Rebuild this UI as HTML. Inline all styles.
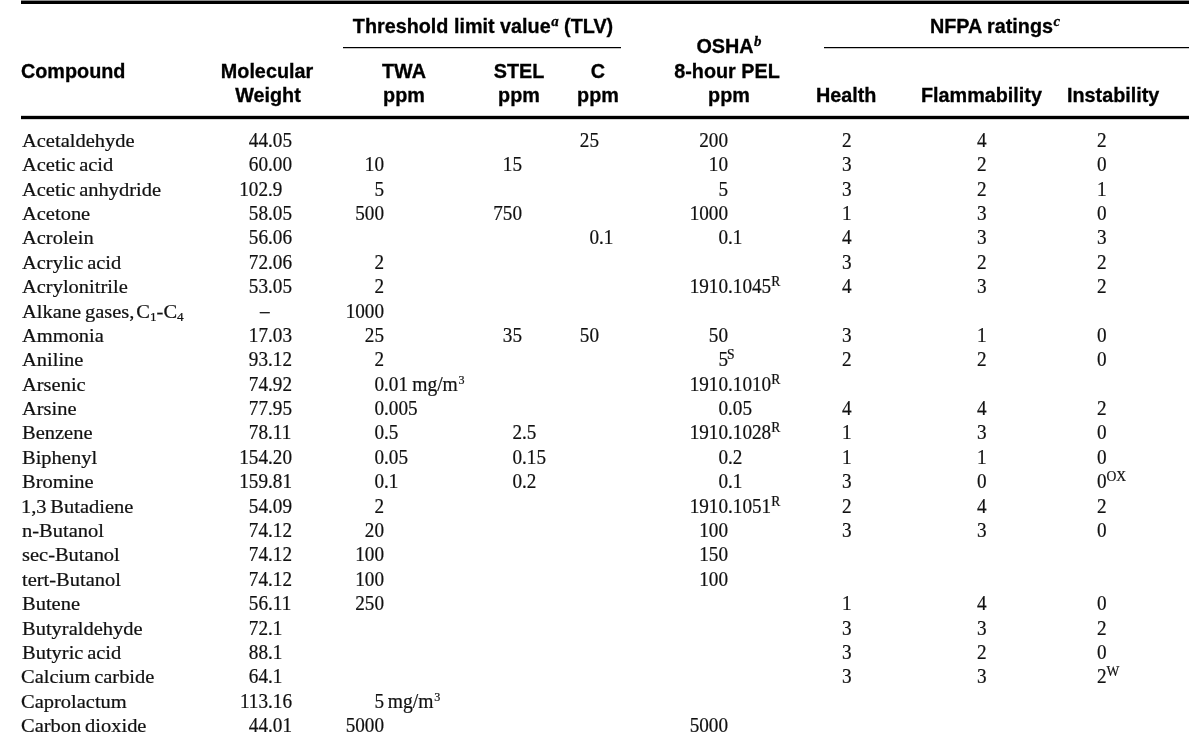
<!DOCTYPE html>
<html lang="en"><head><meta charset="utf-8"><title>Table</title>
<style>
html,body{margin:0;padding:0;background:#fff;}
body{width:1189px;height:741px;position:relative;overflow:hidden;color:#111;}
#t{left:0;top:0;width:1189px;height:741px;will-change:transform;}
div{position:absolute;white-space:pre;}
.n,.d{-webkit-text-stroke:0.22px #111;}
.n{font:19.80px/24px "Liberation Serif",serif;transform:scaleX(1.035);transform-origin:0 0;word-spacing:-1.3px;}
.d{font:20.40px/24px "Liberation Serif",serif;transform:scaleX(0.94);transform-origin:0 0;}
.i{position:absolute;right:100%;top:0;}
.u{display:inline-block;transform:scaleX(1.02);transform-origin:0 0;margin-left:-1px;}
.r{text-align:right;}
.h{font:bold 19.30px/24px "Liberation Sans",sans-serif;color:#000;-webkit-text-stroke:0.3px #000;transform:scaleX(1.026);transform-origin:0 0;}
.c{width:400px;text-align:center;transform-origin:50% 0;}
sup,sub{line-height:0;position:relative;vertical-align:baseline;}
.d sup{display:inline-block;font-size:13.6px;top:-7px;transform:scaleX(1.064);transform-origin:0 50%;margin-left:-0.3px;}
.u sup{font-size:12.6px;transform:none;margin-left:0.8px;}
.n sub{font-size:12.8px;top:3.4px;}
.cs{margin-left:-1.8px;}
.h sup{font:italic bold 14.5px/0 "Liberation Serif",serif;top:-7.2px;margin-left:0.5px;}
.rule{background:#000;}
</style></head><body><div id="t">
<div class="rule" style="left:21px;top:0;width:1168px;height:1px;background:#8e8e8e"></div>
<div class="rule" style="left:21px;top:1px;width:1168px;height:3px"></div>
<div class="rule" style="left:21px;top:115px;width:1168px;height:5px;background:#d4d4d4"></div>
<div class="rule" style="left:21px;top:116px;width:1168px;height:3px"></div>
<div class="rule" style="left:343px;top:47px;width:278px;height:2px;background:#c4c4c4"></div>
<div class="rule" style="left:343px;top:47px;width:278px;height:1px"></div>
<div class="rule" style="left:824px;top:47px;width:365px;height:2px;background:#c4c4c4"></div>
<div class="rule" style="left:824px;top:47px;width:365px;height:1px"></div>
<div class="h" style="left:21.20px;top:60.00px">Compound</div>
<div class="h c" style="left:67.00px;top:60.00px">Molecular</div>
<div class="h c" style="left:67.60px;top:84.00px">Weight</div>
<div class="h c" style="left:283.00px;top:15.00px">Threshold limit value<sup>a</sup> (TLV)</div>
<div class="h c" style="left:203.70px;top:60.00px">TWA</div>
<div class="h c" style="left:203.80px;top:84.00px">ppm</div>
<div class="h c" style="left:319.00px;top:60.00px">STEL</div>
<div class="h c" style="left:319.00px;top:84.00px">ppm</div>
<div class="h c" style="left:397.80px;top:60.00px">C</div>
<div class="h c" style="left:397.60px;top:84.00px">ppm</div>
<div class="h c" style="left:528.60px;top:35.00px">OSHA<sup>b</sup></div>
<div class="h c" style="left:527.00px;top:60.00px">8-hour PEL</div>
<div class="h c" style="left:528.50px;top:84.00px">ppm</div>
<div class="h c" style="left:795.00px;top:15.00px">NFPA ratings<sup>c</sup></div>
<div class="h" style="left:815.50px;top:84.00px">Health</div>
<div class="h" style="left:920.50px;top:84.00px">Flammability</div>
<div class="h" style="left:1066.50px;top:84.00px">Instability</div>
<div class="n" style="left:21.60px;top:128.00px">Acetaldehyde</div>
<div class="d" style="left:267.50px;top:128.00px"><span class="i">44</span>.05</div>
<div class="d" style="left:599.30px;top:128.00px"><span class="i">25</span></div>
<div class="d" style="left:728.10px;top:128.00px"><span class="i">200</span></div>
<div class="d" style="left:842.10px;top:128.00px">2</div>
<div class="d" style="left:977.10px;top:128.00px">4</div>
<div class="d" style="left:1097.20px;top:128.00px">2</div>
<div class="n" style="left:21.60px;top:152.00px">Acetic acid</div>
<div class="d" style="left:267.50px;top:152.00px"><span class="i">60</span>.00</div>
<div class="d" style="left:383.70px;top:152.00px"><span class="i">10</span></div>
<div class="d" style="left:522.00px;top:152.00px"><span class="i">15</span></div>
<div class="d" style="left:728.10px;top:152.00px"><span class="i">10</span></div>
<div class="d" style="left:842.10px;top:152.00px">3</div>
<div class="d" style="left:977.10px;top:152.00px">2</div>
<div class="d" style="left:1097.20px;top:152.00px">0</div>
<div class="n" style="left:21.60px;top:177.00px">Acetic anhydride</div>
<div class="d" style="left:267.50px;top:177.00px"><span class="i">102</span>.9</div>
<div class="d" style="left:383.70px;top:177.00px"><span class="i">5</span></div>
<div class="d" style="left:728.10px;top:177.00px"><span class="i">5</span></div>
<div class="d" style="left:842.10px;top:177.00px">3</div>
<div class="d" style="left:977.10px;top:177.00px">2</div>
<div class="d" style="left:1097.20px;top:177.00px">1</div>
<div class="n" style="left:21.60px;top:201.00px">Acetone</div>
<div class="d" style="left:267.50px;top:201.00px"><span class="i">58</span>.05</div>
<div class="d" style="left:383.70px;top:201.00px"><span class="i">500</span></div>
<div class="d" style="left:522.00px;top:201.00px"><span class="i">750</span></div>
<div class="d" style="left:728.10px;top:201.00px"><span class="i">1000</span></div>
<div class="d" style="left:842.10px;top:201.00px">1</div>
<div class="d" style="left:977.10px;top:201.00px">3</div>
<div class="d" style="left:1097.20px;top:201.00px">0</div>
<div class="n" style="left:21.60px;top:225.00px">Acrolein</div>
<div class="d" style="left:267.50px;top:225.00px"><span class="i">56</span>.06</div>
<div class="d" style="left:599.30px;top:225.00px"><span class="i">0</span>.1</div>
<div class="d" style="left:728.10px;top:225.00px"><span class="i">0</span>.1</div>
<div class="d" style="left:842.10px;top:225.00px">4</div>
<div class="d" style="left:977.10px;top:225.00px">3</div>
<div class="d" style="left:1097.20px;top:225.00px">3</div>
<div class="n" style="left:21.60px;top:250.00px">Acrylic acid</div>
<div class="d" style="left:267.50px;top:250.00px"><span class="i">72</span>.06</div>
<div class="d" style="left:383.70px;top:250.00px"><span class="i">2</span></div>
<div class="d" style="left:842.10px;top:250.00px">3</div>
<div class="d" style="left:977.10px;top:250.00px">2</div>
<div class="d" style="left:1097.20px;top:250.00px">2</div>
<div class="n" style="left:21.60px;top:274.00px">Acrylonitrile</div>
<div class="d" style="left:267.50px;top:274.00px"><span class="i">53</span>.05</div>
<div class="d" style="left:383.70px;top:274.00px"><span class="i">2</span></div>
<div class="d" style="left:728.10px;top:274.00px"><span class="i">1910</span>.1045<sup>R</sup></div>
<div class="d" style="left:842.10px;top:274.00px">4</div>
<div class="d" style="left:977.10px;top:274.00px">3</div>
<div class="d" style="left:1097.20px;top:274.00px">2</div>
<div class="n" style="left:21.60px;top:299.00px">Alkane gases,<span class="cs"> </span>C<sub>1</sub>-C<sub>4</sub></div>
<div class="d" style="left:259.50px;top:299.00px">–</div>
<div class="d" style="left:383.70px;top:299.00px"><span class="i">1000</span></div>
<div class="n" style="left:21.60px;top:323.00px">Ammonia</div>
<div class="d" style="left:267.50px;top:323.00px"><span class="i">17</span>.03</div>
<div class="d" style="left:383.70px;top:323.00px"><span class="i">25</span></div>
<div class="d" style="left:522.00px;top:323.00px"><span class="i">35</span></div>
<div class="d" style="left:599.30px;top:323.00px"><span class="i">50</span></div>
<div class="d" style="left:728.10px;top:323.00px"><span class="i">50</span></div>
<div class="d" style="left:842.10px;top:323.00px">3</div>
<div class="d" style="left:977.10px;top:323.00px">1</div>
<div class="d" style="left:1097.20px;top:323.00px">0</div>
<div class="n" style="left:21.60px;top:347.00px">Aniline</div>
<div class="d" style="left:267.50px;top:347.00px"><span class="i">93</span>.12</div>
<div class="d" style="left:383.70px;top:347.00px"><span class="i">2</span></div>
<div class="d" style="left:728.10px;top:347.00px"><span class="i">5</span><sup style="margin-left:-1.2px">S</sup></div>
<div class="d" style="left:842.10px;top:347.00px">2</div>
<div class="d" style="left:977.10px;top:347.00px">2</div>
<div class="d" style="left:1097.20px;top:347.00px">0</div>
<div class="n" style="left:21.60px;top:372.00px">Arsenic</div>
<div class="d" style="left:267.50px;top:372.00px"><span class="i">74</span>.92</div>
<div class="d" style="left:383.70px;top:372.00px"><span class="i">0</span>.01 <span class="u">mg/m<sup>3</sup></span></div>
<div class="d" style="left:728.10px;top:372.00px"><span class="i">1910</span>.1010<sup>R</sup></div>
<div class="n" style="left:21.60px;top:396.00px">Arsine</div>
<div class="d" style="left:267.50px;top:396.00px"><span class="i">77</span>.95</div>
<div class="d" style="left:383.70px;top:396.00px"><span class="i">0</span>.005</div>
<div class="d" style="left:728.10px;top:396.00px"><span class="i">0</span>.05</div>
<div class="d" style="left:842.10px;top:396.00px">4</div>
<div class="d" style="left:977.10px;top:396.00px">4</div>
<div class="d" style="left:1097.20px;top:396.00px">2</div>
<div class="n" style="left:21.60px;top:420.00px">Benzene</div>
<div class="d" style="left:267.50px;top:420.00px"><span class="i">78</span>.11</div>
<div class="d" style="left:383.70px;top:420.00px"><span class="i">0</span>.5</div>
<div class="d" style="left:522.00px;top:420.00px"><span class="i">2</span>.5</div>
<div class="d" style="left:728.10px;top:420.00px"><span class="i">1910</span>.1028<sup>R</sup></div>
<div class="d" style="left:842.10px;top:420.00px">1</div>
<div class="d" style="left:977.10px;top:420.00px">3</div>
<div class="d" style="left:1097.20px;top:420.00px">0</div>
<div class="n" style="left:21.60px;top:445.00px">Biphenyl</div>
<div class="d" style="left:267.50px;top:445.00px"><span class="i">154</span>.20</div>
<div class="d" style="left:383.70px;top:445.00px"><span class="i">0</span>.05</div>
<div class="d" style="left:522.00px;top:445.00px"><span class="i">0</span>.15</div>
<div class="d" style="left:728.10px;top:445.00px"><span class="i">0</span>.2</div>
<div class="d" style="left:842.10px;top:445.00px">1</div>
<div class="d" style="left:977.10px;top:445.00px">1</div>
<div class="d" style="left:1097.20px;top:445.00px">0</div>
<div class="n" style="left:21.60px;top:469.00px">Bromine</div>
<div class="d" style="left:267.50px;top:469.00px"><span class="i">159</span>.81</div>
<div class="d" style="left:383.70px;top:469.00px"><span class="i">0</span>.1</div>
<div class="d" style="left:522.00px;top:469.00px"><span class="i">0</span>.2</div>
<div class="d" style="left:728.10px;top:469.00px"><span class="i">0</span>.1</div>
<div class="d" style="left:842.10px;top:469.00px">3</div>
<div class="d" style="left:977.10px;top:469.00px">0</div>
<div class="d" style="left:1097.20px;top:469.00px">0<sup>OX</sup></div>
<div class="n" style="left:20.60px;top:494.00px">1,3 Butadiene</div>
<div class="d" style="left:267.50px;top:494.00px"><span class="i">54</span>.09</div>
<div class="d" style="left:383.70px;top:494.00px"><span class="i">2</span></div>
<div class="d" style="left:728.10px;top:494.00px"><span class="i">1910</span>.1051<sup>R</sup></div>
<div class="d" style="left:842.10px;top:494.00px">2</div>
<div class="d" style="left:977.10px;top:494.00px">4</div>
<div class="d" style="left:1097.20px;top:494.00px">2</div>
<div class="n" style="left:21.60px;top:518.00px">n-Butanol</div>
<div class="d" style="left:267.50px;top:518.00px"><span class="i">74</span>.12</div>
<div class="d" style="left:383.70px;top:518.00px"><span class="i">20</span></div>
<div class="d" style="left:728.10px;top:518.00px"><span class="i">100</span></div>
<div class="d" style="left:842.10px;top:518.00px">3</div>
<div class="d" style="left:977.10px;top:518.00px">3</div>
<div class="d" style="left:1097.20px;top:518.00px">0</div>
<div class="n" style="left:21.60px;top:542.00px">sec-Butanol</div>
<div class="d" style="left:267.50px;top:542.00px"><span class="i">74</span>.12</div>
<div class="d" style="left:383.70px;top:542.00px"><span class="i">100</span></div>
<div class="d" style="left:728.10px;top:542.00px"><span class="i">150</span></div>
<div class="n" style="left:21.60px;top:567.00px">tert-Butanol</div>
<div class="d" style="left:267.50px;top:567.00px"><span class="i">74</span>.12</div>
<div class="d" style="left:383.70px;top:567.00px"><span class="i">100</span></div>
<div class="d" style="left:728.10px;top:567.00px"><span class="i">100</span></div>
<div class="n" style="left:21.60px;top:591.00px">Butene</div>
<div class="d" style="left:267.50px;top:591.00px"><span class="i">56</span>.11</div>
<div class="d" style="left:383.70px;top:591.00px"><span class="i">250</span></div>
<div class="d" style="left:842.10px;top:591.00px">1</div>
<div class="d" style="left:977.10px;top:591.00px">4</div>
<div class="d" style="left:1097.20px;top:591.00px">0</div>
<div class="n" style="left:21.60px;top:616.00px">Butyraldehyde</div>
<div class="d" style="left:267.50px;top:616.00px"><span class="i">72</span>.1</div>
<div class="d" style="left:842.10px;top:616.00px">3</div>
<div class="d" style="left:977.10px;top:616.00px">3</div>
<div class="d" style="left:1097.20px;top:616.00px">2</div>
<div class="n" style="left:21.60px;top:640.00px">Butyric acid</div>
<div class="d" style="left:267.50px;top:640.00px"><span class="i">88</span>.1</div>
<div class="d" style="left:842.10px;top:640.00px">3</div>
<div class="d" style="left:977.10px;top:640.00px">2</div>
<div class="d" style="left:1097.20px;top:640.00px">0</div>
<div class="n" style="left:20.60px;top:664.00px">Calcium carbide</div>
<div class="d" style="left:267.50px;top:664.00px"><span class="i">64</span>.1</div>
<div class="d" style="left:842.10px;top:664.00px">3</div>
<div class="d" style="left:977.10px;top:664.00px">3</div>
<div class="d" style="left:1097.20px;top:664.00px">2<sup>W</sup></div>
<div class="n" style="left:20.60px;top:689.00px">Caprolactum</div>
<div class="d" style="left:267.50px;top:689.00px"><span class="i">113</span>.16</div>
<div class="d" style="left:383.70px;top:689.00px"><span class="i">5</span> <span class="u">mg/m<sup>3</sup></span></div>
<div class="n" style="left:20.60px;top:713.00px">Carbon dioxide</div>
<div class="d" style="left:267.50px;top:713.00px"><span class="i">44</span>.01</div>
<div class="d" style="left:383.70px;top:713.00px"><span class="i">5000</span></div>
<div class="d" style="left:728.10px;top:713.00px"><span class="i">5000</span></div>
</div></body></html>
